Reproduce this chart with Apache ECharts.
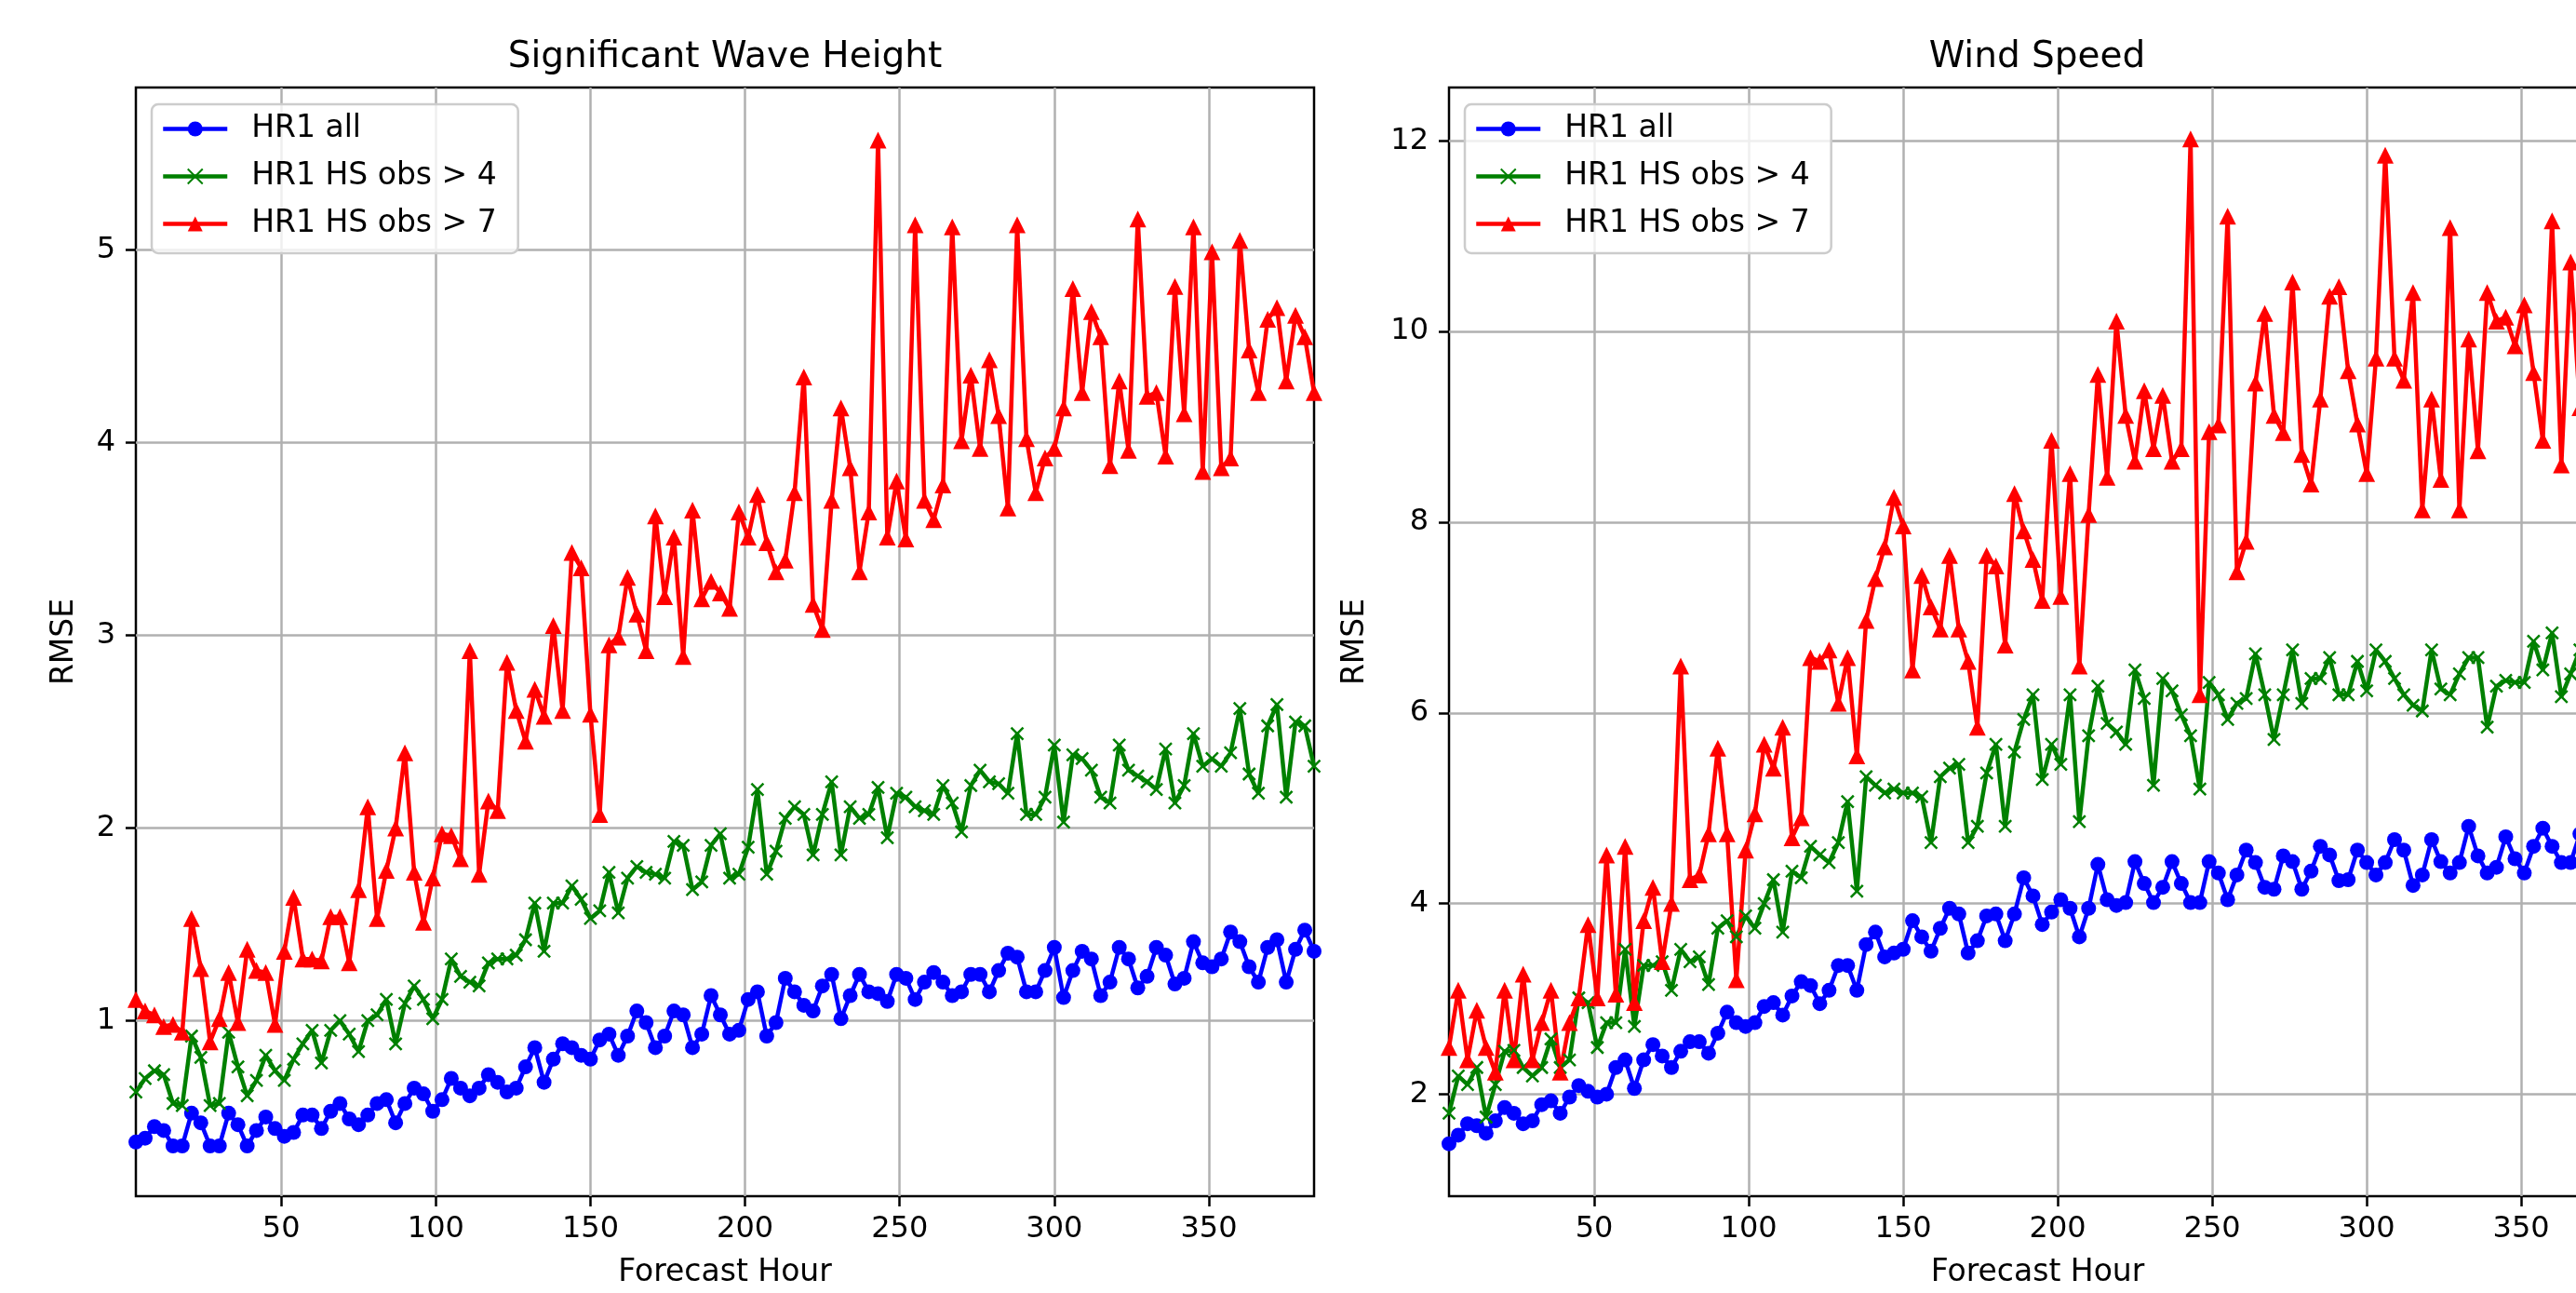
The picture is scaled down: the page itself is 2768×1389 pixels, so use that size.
<!DOCTYPE html>
<html>
<head>
<meta charset="utf-8">
<title>RMSE by forecast hour</title>
<script src="https://cdn.jsdelivr.net/npm/echarts@6/dist/echarts.min.js"></script>
<style>
  html, body { margin: 0; padding: 0; background: #fff; overflow: hidden; }
  /* the right panel runs past the window edge, like the cropped original */
  #main { width: 2900px; height: 1389px; }
</style>
</head>
<body>
<div id="main"></div>
<script>
// forecast hours (x)
const hours = [3, 6, 9, 12, 15, 18, 21, 24, 27, 30, 33, 36, 39, 42, 45, 48, 51, 54, 57, 60,
  63, 66, 69, 72, 75, 78, 81, 84, 87, 90, 93, 96, 99, 102, 105, 108, 111, 114, 117, 120,
  123, 126, 129, 132, 135, 138, 141, 144, 147, 150, 153, 156, 159, 162, 165, 168, 171, 174, 177, 180,
  183, 186, 189, 192, 195, 198, 201, 204, 207, 210, 213, 216, 219, 222, 225, 228, 231, 234, 237, 240,
  243, 246, 249, 252, 255, 258, 261, 264, 267, 270, 273, 276, 279, 282, 285, 288, 291, 294, 297, 300,
  303, 306, 309, 312, 315, 318, 321, 324, 327, 330, 333, 336, 339, 342, 345, 348, 351, 354, 357, 360,
  363, 366, 369, 372, 375, 378, 381, 384]

// Significant Wave Height RMSE
const hsAll = [0.37, 0.39, 0.45, 0.43, 0.35, 0.35, 0.52, 0.47, 0.35, 0.35, 0.52, 0.46, 0.35, 0.43, 0.50, 0.44,
  0.40, 0.42, 0.51, 0.51, 0.44, 0.53, 0.57, 0.49, 0.46, 0.51, 0.57, 0.59, 0.47, 0.57, 0.65, 0.62,
  0.53, 0.59, 0.70, 0.65, 0.61, 0.65, 0.72, 0.68, 0.63, 0.65, 0.76, 0.86, 0.68, 0.80, 0.88, 0.86,
  0.82, 0.80, 0.90, 0.93, 0.82, 0.92, 1.05, 0.99, 0.86, 0.92, 1.05, 1.03, 0.86, 0.93, 1.13, 1.03,
  0.93, 0.95, 1.11, 1.15, 0.92, 0.99, 1.22, 1.15, 1.08, 1.05, 1.18, 1.24, 1.01, 1.13, 1.24, 1.15,
  1.14, 1.10, 1.24, 1.22, 1.11, 1.20, 1.25, 1.20, 1.13, 1.15, 1.24, 1.24, 1.15, 1.26, 1.35, 1.33,
  1.15, 1.15, 1.26, 1.38, 1.12, 1.26, 1.36, 1.32, 1.13, 1.20, 1.38, 1.32, 1.17, 1.23, 1.38, 1.34,
  1.19, 1.22, 1.41, 1.30, 1.28, 1.32, 1.46, 1.41, 1.28, 1.20, 1.38, 1.42, 1.20, 1.37, 1.47, 1.36]
const hsObs4 = [0.63, 0.70, 0.74, 0.72, 0.57, 0.56, 0.92, 0.81, 0.56, 0.57, 0.94, 0.76, 0.61, 0.69, 0.82, 0.74,
  0.69, 0.80, 0.88, 0.95, 0.78, 0.95, 1.00, 0.93, 0.84, 1.00, 1.03, 1.11, 0.88, 1.09, 1.18, 1.11,
  1.01, 1.11, 1.32, 1.23, 1.20, 1.18, 1.30, 1.32, 1.32, 1.34, 1.42, 1.61, 1.36, 1.61, 1.61, 1.70,
  1.63, 1.53, 1.57, 1.77, 1.56, 1.74, 1.80, 1.77, 1.76, 1.74, 1.93, 1.91, 1.68, 1.72, 1.91, 1.97,
  1.74, 1.76, 1.90, 2.20, 1.76, 1.88, 2.05, 2.11, 2.07, 1.86, 2.07, 2.24, 1.86, 2.11, 2.05, 2.07,
  2.21, 1.95, 2.18, 2.16, 2.11, 2.09, 2.07, 2.22, 2.13, 1.98, 2.22, 2.30, 2.24, 2.23, 2.18, 2.49,
  2.07, 2.07, 2.16, 2.43, 2.03, 2.38, 2.36, 2.30, 2.16, 2.13, 2.43, 2.30, 2.27, 2.24, 2.20, 2.41,
  2.13, 2.22, 2.49, 2.32, 2.36, 2.32, 2.39, 2.62, 2.28, 2.18, 2.53, 2.64, 2.16, 2.55, 2.53, 2.32]
const hsObs7 = [1.11, 1.05, 1.03, 0.97, 0.98, 0.94, 1.53, 1.27, 0.89, 1.01, 1.25, 0.99, 1.37, 1.26, 1.25, 0.98,
  1.36, 1.64, 1.32, 1.32, 1.31, 1.54, 1.54, 1.30, 1.68, 2.11, 1.53, 1.78, 2.00, 2.39, 1.77, 1.51,
  1.74, 1.97, 1.96, 1.84, 2.92, 1.76, 2.14, 2.09, 2.86, 2.61, 2.45, 2.72, 2.58, 3.05, 2.61, 3.43,
  3.35, 2.59, 2.07, 2.95, 2.99, 3.30, 3.11, 2.92, 3.62, 3.20, 3.51, 2.89, 3.65, 3.19, 3.28, 3.22,
  3.14, 3.64, 3.51, 3.73, 3.48, 3.33, 3.39, 3.74, 4.34, 3.16, 3.03, 3.70, 4.18, 3.87, 3.33, 3.64,
  5.57, 3.51, 3.80, 3.50, 5.13, 3.70, 3.60, 3.78, 5.12, 4.01, 4.35, 3.97, 4.43, 4.14, 3.66, 5.13,
  4.02, 3.74, 3.92, 3.97, 4.18, 4.80, 4.26, 4.68, 4.55, 3.88, 4.32, 3.96, 5.16, 4.24, 4.26, 3.93,
  4.81, 4.15, 5.12, 3.85, 4.99, 3.87, 3.92, 5.05, 4.48, 4.26, 4.64, 4.70, 4.32, 4.66, 4.55, 4.26]

// Wind Speed RMSE (the panel is cut off near 369 h in the original)
const wsAll = [1.48, 1.57, 1.69, 1.67, 1.59, 1.72, 1.86, 1.80, 1.69, 1.72, 1.89, 1.93, 1.80, 1.97, 2.09, 2.03,
  1.97, 2.00, 2.28, 2.36, 2.06, 2.36, 2.52, 2.40, 2.28, 2.45, 2.55, 2.55, 2.43, 2.64, 2.86, 2.75,
  2.71, 2.75, 2.92, 2.96, 2.83, 3.03, 3.18, 3.14, 2.95, 3.09, 3.35, 3.35, 3.09, 3.57, 3.70, 3.44,
  3.48, 3.52, 3.82, 3.65, 3.50, 3.74, 3.95, 3.89, 3.48, 3.61, 3.87, 3.89, 3.61, 3.89, 4.27, 4.08,
  3.78, 3.91, 4.04, 3.95, 3.65, 3.95, 4.41, 4.04, 3.98, 4.01, 4.44, 4.21, 4.01, 4.17, 4.44, 4.21,
  4.01, 4.01, 4.44, 4.32, 4.04, 4.30, 4.56, 4.43, 4.17, 4.15, 4.50, 4.44, 4.15, 4.34, 4.60, 4.51,
  4.24, 4.25, 4.56, 4.43, 4.30, 4.43, 4.67, 4.56, 4.19, 4.30, 4.67, 4.44, 4.32, 4.43, 4.81, 4.50,
  4.32, 4.38, 4.70, 4.47, 4.32, 4.60, 4.79, 4.60, 4.43, 4.43, 4.73]
const wsObs4 = [1.80, 2.19, 2.10, 2.28, 1.76, 2.10, 2.45, 2.46, 2.28, 2.19, 2.28, 2.58, 2.28, 2.36, 3.01, 2.96,
  2.49, 2.75, 2.75, 3.52, 2.71, 3.35, 3.35, 3.39, 3.09, 3.52, 3.39, 3.44, 3.15, 3.74, 3.82, 3.65,
  3.87, 3.74, 4.00, 4.25, 3.70, 4.34, 4.27, 4.60, 4.51, 4.43, 4.64, 5.07, 4.13, 5.33, 5.24, 5.16,
  5.20, 5.16, 5.16, 5.12, 4.64, 5.33, 5.42, 5.46, 4.64, 4.81, 5.37, 5.67, 4.81, 5.59, 5.93, 6.19,
  5.30, 5.67, 5.46, 6.19, 4.86, 5.76, 6.28, 5.89, 5.80, 5.67, 6.45, 6.15, 5.24, 6.36, 6.23, 5.98,
  5.76, 5.20, 6.32, 6.19, 5.93, 6.10, 6.15, 6.62, 6.19, 5.72, 6.19, 6.66, 6.10, 6.36, 6.36, 6.58,
  6.19, 6.19, 6.54, 6.23, 6.66, 6.54, 6.36, 6.19, 6.08, 6.02, 6.66, 6.25, 6.19, 6.41, 6.58, 6.58,
  5.85, 6.28, 6.34, 6.32, 6.32, 6.75, 6.45, 6.84, 6.17, 6.41, 6.66]
const wsObs7 = [2.49, 3.09, 2.36, 2.88, 2.49, 2.23, 3.09, 2.36, 3.26, 2.36, 2.75, 3.09, 2.23, 2.75, 3.01, 3.78,
  3.01, 4.51, 3.05, 4.60, 2.96, 3.82, 4.17, 3.39, 4.00, 6.49, 4.25, 4.30, 4.73, 5.63, 4.73, 3.20,
  4.56, 4.94, 5.67, 5.42, 5.85, 4.69, 4.90, 6.58, 6.54, 6.66, 6.10, 6.58, 5.55, 6.97, 7.41, 7.74,
  8.26, 7.96, 6.45, 7.44, 7.11, 6.88, 7.65, 6.88, 6.54, 5.85, 7.65, 7.54, 6.71, 8.30, 7.91, 7.61,
  7.18, 8.86, 7.22, 8.51, 6.49, 8.08, 9.55, 8.47, 10.11, 9.12, 8.64, 9.38, 8.77, 9.33, 8.64, 8.77,
  12.02, 6.19, 8.95, 9.02, 11.21, 7.48, 7.80, 9.46, 10.19, 9.12, 8.94, 10.52, 8.71, 8.40, 9.29, 10.37,
  10.47, 9.59, 9.03, 8.51, 9.72, 11.85, 9.72, 9.49, 10.41, 8.13, 9.29, 8.45, 11.09, 8.13, 9.92, 8.75,
  10.41, 10.11, 10.15, 9.85, 10.28, 9.57, 8.86, 11.16, 8.60, 10.73, 9.20]

const xTicks = [50, 100, 150, 200, 250, 300, 350]
const hsTicks = [1, 2, 3, 4, 5]
const wsTicks = [2, 4, 6, 8, 10, 12]

const names = ['HR1 all', 'HR1 HS obs > 4', 'HR1 HS obs > 7']
const font = 'DejaVu Sans'
const xMark = 'path://M0,0L10,10M10,0L0,10'

function pairs(vals) {
  return vals.map(function (v, i) { return [hours[i], v] })
}

function xAxis(gridIndex) {
  return {
    type: 'value', gridIndex: gridIndex, min: 3, max: 384,
    name: 'Forecast Hour', nameLocation: 'middle', nameGap: 66,
    nameTextStyle: { color: '#000', fontSize: 33, fontFamily: font },
    axisLine: { show: false },
    axisTick: { show: true, length: 11, customValues: xTicks, lineStyle: { color: '#000', width: 2.5 } },
    axisLabel: { customValues: xTicks, color: '#000', fontSize: 32, margin: 20, fontFamily: font },
    splitLine: { show: true, lineStyle: { color: '#b0b0b0', width: 2.5 } }
  }
}

function yAxis(gridIndex, min, max, ticks, gap) {
  return {
    type: 'value', gridIndex: gridIndex, min: min, max: max,
    name: 'RMSE', nameLocation: 'middle', nameRotate: 90, nameGap: gap,
    nameTextStyle: { color: '#000', fontSize: 33, fontFamily: font },
    axisLine: { show: false },
    axisTick: { show: true, length: 11, customValues: ticks, lineStyle: { color: '#000', width: 2.5 } },
    axisLabel: { customValues: ticks, color: '#000', fontSize: 32, margin: 22, fontFamily: font },
    splitLine: { show: true, lineStyle: { color: '#b0b0b0', width: 2.5 } }
  }
}

function lineSeries(name, idx, vals, color, symbol, size, border) {
  return {
    name: name, type: 'line', xAxisIndex: idx, yAxisIndex: idx,
    data: pairs(vals),
    symbol: symbol, symbolSize: size, showAllSymbol: true,
    lineStyle: { color: color, width: 4.5 },
    itemStyle: { color: color, borderColor: color, borderWidth: border },
    emphasis: { disabled: true },
    clip: true
  }
}

function legend(left) {
  return {
    left: left, top: 112, orient: 'vertical',
    data: names,
    itemWidth: 69, itemHeight: 20, itemGap: 18,
    padding: [10, 23, 15, 10],
    backgroundColor: 'rgba(255,255,255,0.8)',
    borderColor: '#cccccc', borderWidth: 2.5, borderRadius: 7,
    lineStyle: { width: 4.5 },
    textStyle: { color: '#000', fontSize: 33, lineHeight: 32, fontFamily: font, padding: [0, 0, 0, 21] }
  }
}

const chart = echarts.init(document.getElementById('main'), null, { renderer: 'canvas' })

const option = {
  animation: false,
  backgroundColor: '#fff',
  title: [
    { text: 'Significant Wave Height', left: 779, top: 42, padding: 0, textAlign: 'center',
      textStyle: { color: '#000', fontSize: 39, fontWeight: 'normal', fontFamily: font } },
    { text: 'Wind Speed', left: 2189, top: 42, padding: 0, textAlign: 'center',
      textStyle: { color: '#000', fontSize: 39, fontWeight: 'normal', fontFamily: font } }
  ],
  legend: [legend(163), legend(1574)],
  grid: [
    { left: 146, top: 94, width: 1266, height: 1194, show: true, borderColor: '#000', borderWidth: 2.5, backgroundColor: 'transparent' },
    { left: 1557, top: 94, width: 1265, height: 1194, show: true, borderColor: '#000', borderWidth: 2.5, backgroundColor: 'transparent' }
  ],
  xAxis: [xAxis(0), xAxis(1)],
  yAxis: [yAxis(0, 0.089, 5.843, hsTicks, 60), yAxis(1, 0.93, 12.56, wsTicks, 84)],
  series: [
    lineSeries(names[0], 0, hsAll, '#0000ff', 'circle', 16, 0),
    lineSeries(names[1], 0, hsObs4, '#008000', xMark, 13, 2.5),
    lineSeries(names[2], 0, hsObs7, '#ff0000', 'triangle', 18, 0),
    lineSeries(names[0], 1, wsAll, '#0000ff', 'circle', 16, 0),
    lineSeries(names[1], 1, wsObs4, '#008000', xMark, 13, 2.5),
    lineSeries(names[2], 1, wsObs7, '#ff0000', 'triangle', 18, 0)
  ]
}

chart.setOption(option)
</script>
</body>
</html>
